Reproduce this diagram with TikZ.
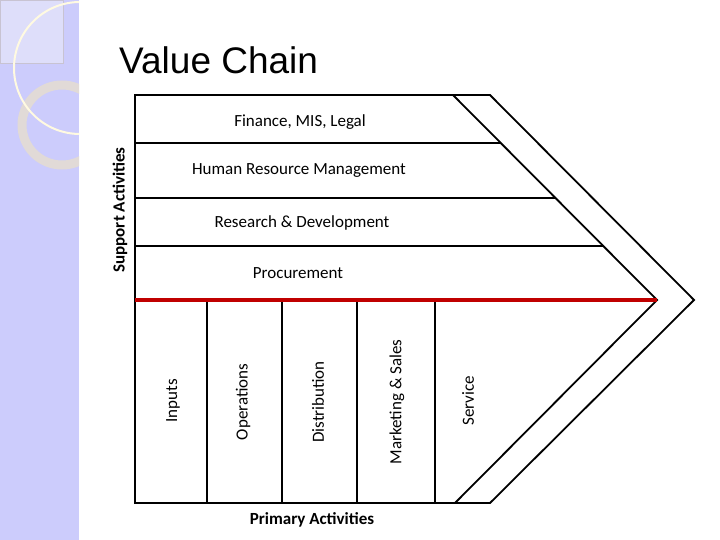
\documentclass[tikz,border=0pt]{standalone}
\usepackage{fontspec}
\setmainfont{Carlito}
\newfontfamily\titlefont{Liberation Sans}
\definecolor{lav}{RGB}{204,204,252}
\definecolor{lavlt}{RGB}{222,222,250}
\definecolor{sqedge}{RGB}{200,195,210}
\definecolor{ring}{RGB}{225,218,215}
\definecolor{cream}{RGB}{255,250,225}
\definecolor{vcred}{RGB}{192,0,0}
\begin{document}
\begin{tikzpicture}[x=1pt,y=-1pt,line width=1.8pt,
  lab/.style={font=\fontsize{17}{19}\selectfont},
  vlab/.style={lab,rotate=90}]
\useasboundingbox (0,0) rectangle (720,540);
\fill[white] (0,0) rectangle (720,540);
\fill[lav] (0,0) rectangle (79,540);
\begin{scope}
\clip (0,0) rectangle (79,540);
\filldraw[fill=lavlt,draw=sqedge,line width=0.5pt] (0,0) rectangle (63,63);
\draw[line width=9pt,ring] (62,125) circle (40);
\draw[line width=2pt,cream] (80,68) circle (66);
\end{scope}
\node[font=\titlefont\fontsize{37}{40}\selectfont,anchor=west] (title) at (115,60) {Value Chain};
\draw (135,95) -- (490,95) -- (694,300) -- (490,503) -- (135,503) -- cycle;
\draw (453,95) -- (657,300) -- (455,503);
\draw (135,143) -- (501,143);
\draw (135,198) -- (555,198);
\draw (135,246) -- (603,246);
\foreach \x in {207,282,357,435} \draw (\x,300) -- (\x,503);
\draw[line width=3.5pt,vcred] (135,300) -- (657,300);
\node[lab] (fin) at (300,122) {Finance, MIS, Legal};
\node[lab] (hrm) at (299,171) {Human Resource Management};
\node[lab] (rd) at (302,223) {Research \& Development};
\node[lab] (proc) at (298,273) {Procurement};
\node[vlab] (inp) at (173,401) {Inputs};
\node[vlab] (ops) at (243,402) {Operations};
\node[vlab] (dis) at (318,402) {Distribution};
\node[vlab] (mkt) at (397,402) {Marketing \& Sales};
\node[vlab] (ser) at (468,401) {Service};
\node[vlab,font=\bfseries\fontsize{17}{19}\selectfont] (sup) at (120,210) {Support Activities};
\node[lab,font=\bfseries\fontsize{17}{19}\selectfont] (pri) at (312,520) {Primary Activities};
\end{tikzpicture}
\end{document}
